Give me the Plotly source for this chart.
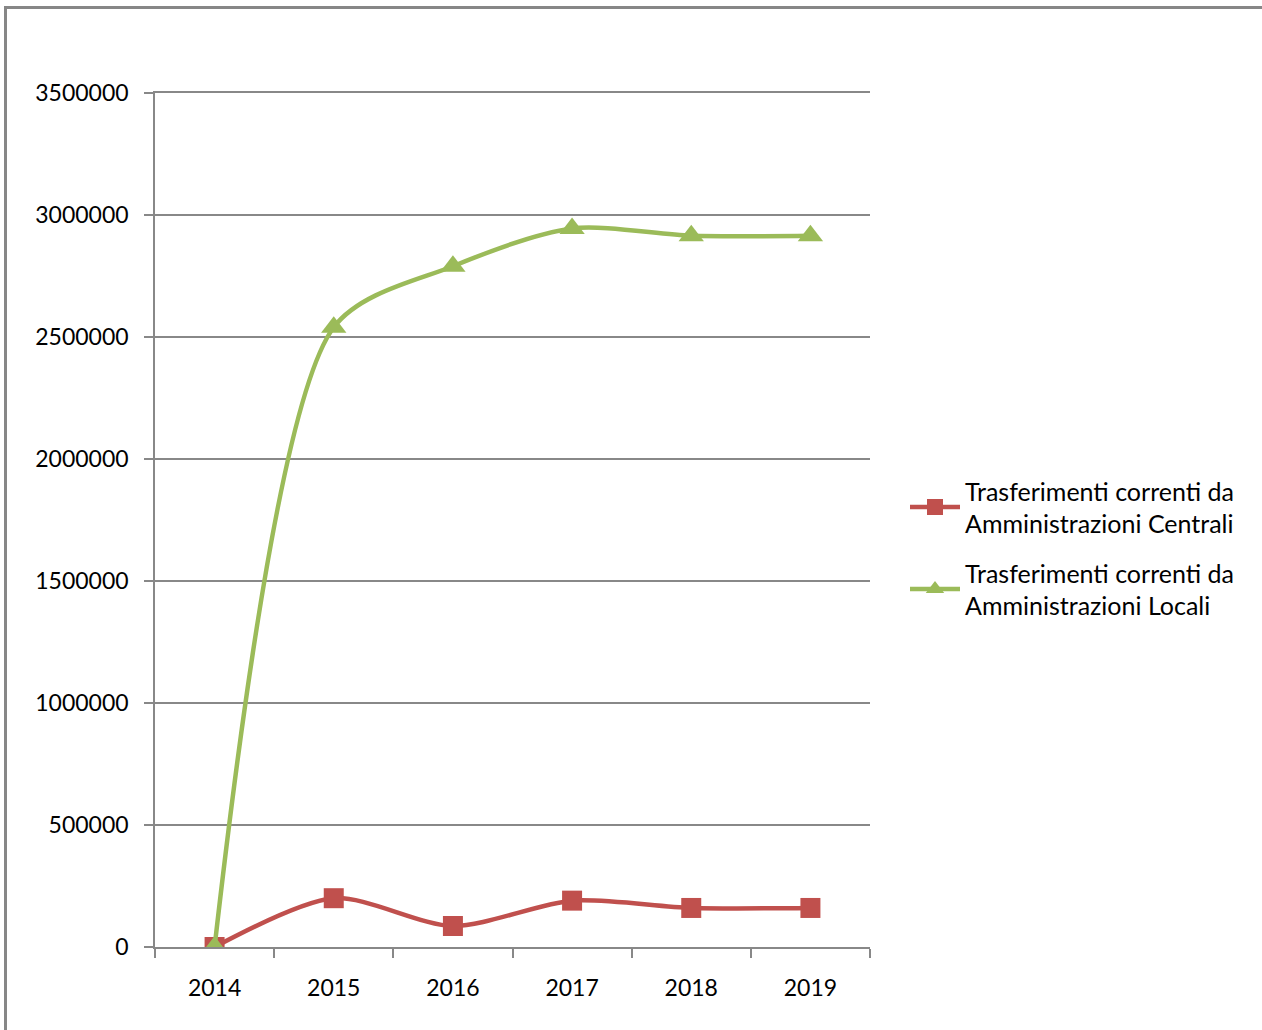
import plotly.graph_objects as go

years = ["2014", "2015", "2016", "2017", "2018", "2019"]
centrali = [0, 200000, 86000, 190000, 160000, 160000]
locali = [0, 2540000, 2790000, 2945000, 2915000, 2915000]
names = ["Trasferimenti correnti da<br>Amministrazioni Centrali",
         "Trasferimenti correnti da<br>Amministrazioni Locali"]
y_ticks = [0, 500000, 1000000, 1500000, 2000000, 2500000, 3000000, 3500000]

RED = "#C0504D"
GREEN = "#9BBB59"
GRID = "#888888"
FONT = "Lato, 'Open Sans', sans-serif"

fig = go.Figure()
fig.add_trace(go.Scatter(
    x=years, y=centrali, name=names[0], legendgroup="a", mode="lines+markers",
    line=dict(color=RED, width=4.5, shape="spline", smoothing=0.8),
    marker=dict(symbol="square", size=20, color=RED),
))
fig.add_trace(go.Scatter(
    x=years, y=locali, name=names[1], legendgroup="b", mode="lines+markers",
    line=dict(color=GREEN, width=4.5, shape="spline", smoothing=0.8),
    marker=dict(symbol="triangle-up", size=22, color=GREEN),
))

W, H = 1262, 1030
L, R, T, B = 155, 870, 93, 947
pw, ph = R - L, B - T

def px_x(x):
    return (x - L) / pw

def px_y(y):
    return (B - y) / ph

fig.update_layout(
    width=W, height=H,
    margin=dict(l=L, r=W - R, t=T, b=H - B, pad=0),
    paper_bgcolor="white", plot_bgcolor="white",
    font=dict(family=FONT, size=23, color="#000000"),
    showlegend=True,
    legend=dict(
        x=px_x(905), y=px_y(548), xanchor="left", yanchor="middle",
        font=dict(family=FONT, size=25, color="#000000"),
        itemwidth=50, tracegroupgap=14, bgcolor="rgba(0,0,0,0)",
    ),
    xaxis=dict(
        type="category", range=[-0.5, len(years) - 0.5],
        showgrid=False, showline=True, mirror=True, linecolor=GRID, linewidth=1.5,
        ticks="outside", tickson="boundaries", ticklen=9, tickcolor=GRID, tickwidth=1.5,
        ticklabelstandoff=20, tickfont=dict(family=FONT, size=23),
        zeroline=False, fixedrange=True,
    ),
    yaxis=dict(
        range=[0, 3500000], tickvals=y_ticks, ticktext=[str(v) for v in y_ticks],
        showgrid=True, gridcolor=GRID, gridwidth=1.5,
        showline=True, linecolor=GRID, linewidth=1.5,
        ticks="outside", ticklen=9, tickcolor=GRID, tickwidth=1.5,
        ticklabelstandoff=11, tickfont=dict(family=FONT, size=23),
        zeroline=False,
    ),
    shapes=[dict(
        type="rect", xref="paper", yref="paper",
        x0=px_x(5.5), x1=px_x(1275), y0=px_y(1045), y1=px_y(7.5),
        line=dict(color="#878787", width=3), fillcolor="rgba(0,0,0,0)", layer="below",
    )],
)

fig.write_html("out.html", config={"displayModeBar": False},
               post_script="document.body.style.margin='0px';")
